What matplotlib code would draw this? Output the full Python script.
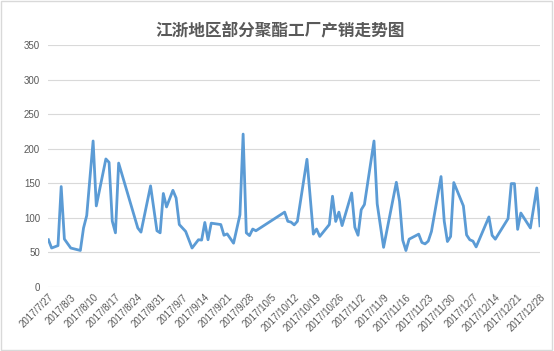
import datetime as dt
import matplotlib
matplotlib.use("Agg")
import matplotlib.pyplot as plt
import matplotlib.dates as mdates
from matplotlib.patches import Rectangle

TITLE = "江浙地区部分聚酯工厂产销走势图"

# 日期 (2017) 与产销率 (%)
dates = [
    "7/27", "7/28", "7/30", "7/31", "8/1", "8/3", "8/6", "8/7", "8/8", "8/10",
    "8/11", "8/14", "8/15", "8/16", "8/17", "8/18", "8/24", "8/25", "8/28", "8/30",
    "8/31", "9/1", "9/2", "9/4", "9/5", "9/6", "9/8", "9/10", "9/12", "9/13",
    "9/14", "9/15", "9/16", "9/19", "9/20", "9/21", "9/23", "9/25", "9/26", "9/27",
    "9/28", "9/29", "9/30", "10/9", "10/10", "10/11", "10/12", "10/13", "10/16", "10/18",
    "10/19", "10/20", "10/23", "10/24", "10/25", "10/26", "10/27", "10/30", "10/31", "11/1",
    "11/2", "11/3", "11/6", "11/7", "11/9", "11/13", "11/14", "11/15", "11/16", "11/17",
    "11/20", "11/21", "11/22", "11/23", "11/24", "11/27", "11/28", "11/29", "11/30", "12/1",
    "12/4", "12/5", "12/6", "12/7", "12/8", "12/12", "12/13", "12/14", "12/18", "12/19",
    "12/20", "12/21", "12/22", "12/25", "12/27", "12/28",
]
values = [
    68, 56, 59.5, 145, 69, 56, 52.5, 85, 103, 211,
    117, 185, 180, 95, 78, 179, 85, 79, 146, 81,
    78, 135, 115.5, 139.6, 128.5, 90, 80, 56, 68, 67.5,
    93, 68, 92, 90, 74.5, 76.5, 63, 104, 221, 78,
    74, 83.5, 81, 108, 94.7, 93.5, 89.5, 94.7, 184.5, 76.2,
    83.5, 72.8, 90, 131, 94.5, 108, 88.5, 135.7, 86, 74.5,
    111.5, 119, 211, 120, 57, 151.2, 123.6, 67.4, 52.4, 68.8,
    76.1, 64, 62, 66, 80, 159.5, 95, 65.4, 72.7, 150.8,
    117, 75, 68, 66, 57.6, 101, 74.4, 68.8, 98.6, 149.3,
    149.3, 83, 106.7, 85, 143, 88.2,
]
yticks = [0, 50, 100, 150, 200, 250, 300, 350]
first_day = "7/27"
last_day = "12/28"


def to_date(s):
    m, d = s.split("/")
    return dt.date(2017, int(m), int(d))


def main():
    plt.rcParams["font.family"] = ["Liberation Sans", "DejaVu Sans"]
    x = [to_date(s) for s in dates]
    start, end = to_date(first_day), to_date(last_day)

    fig = plt.figure(figsize=(5.54, 3.51), dpi=100)
    fig.patches.append(Rectangle((0.002, 0.003), 0.995, 0.994, transform=fig.transFigure,
                                 fill=False, edgecolor="#d9d9d9", linewidth=1))
    ax = fig.add_axes([0.0874, 0.1832, 0.8873, 0.6886])
    ax.plot(x, values, color="#5b9bd5", linewidth=2.0, solid_joinstyle="round")

    half = dt.timedelta(hours=12)
    ax.set_xlim(start - half, end + half)
    ax.set_ylim(0, 350)
    ax.set_yticks(yticks)
    ticks = []
    t = start
    while t <= end:
        ticks.append(t)
        t += dt.timedelta(days=7)
    ax.set_xticks(ticks)
    ax.set_xticklabels([f"{d.year}/{d.month}/{d.day}" for d in ticks],
                       rotation=45, ha="right", rotation_mode="anchor")
    ax.tick_params(axis="both", length=0, colors="#595959", labelsize=7)
    ax.tick_params(axis="x", pad=4)
    ax.tick_params(axis="y", pad=6)
    ax.grid(axis="y", color="#d9d9d9", linewidth=0.8)
    ax.set_axisbelow(True)
    for sp in ax.spines.values():
        sp.set_visible(False)

    fig.text(0.505, 0.912, TITLE, ha="center", va="center", fontsize=12, fontweight="bold",
             color="#595959", family=["Noto Sans CJK SC", "DejaVu Sans"])
    fig.savefig("out.png", dpi=100)


if __name__ == "__main__":
    main()
